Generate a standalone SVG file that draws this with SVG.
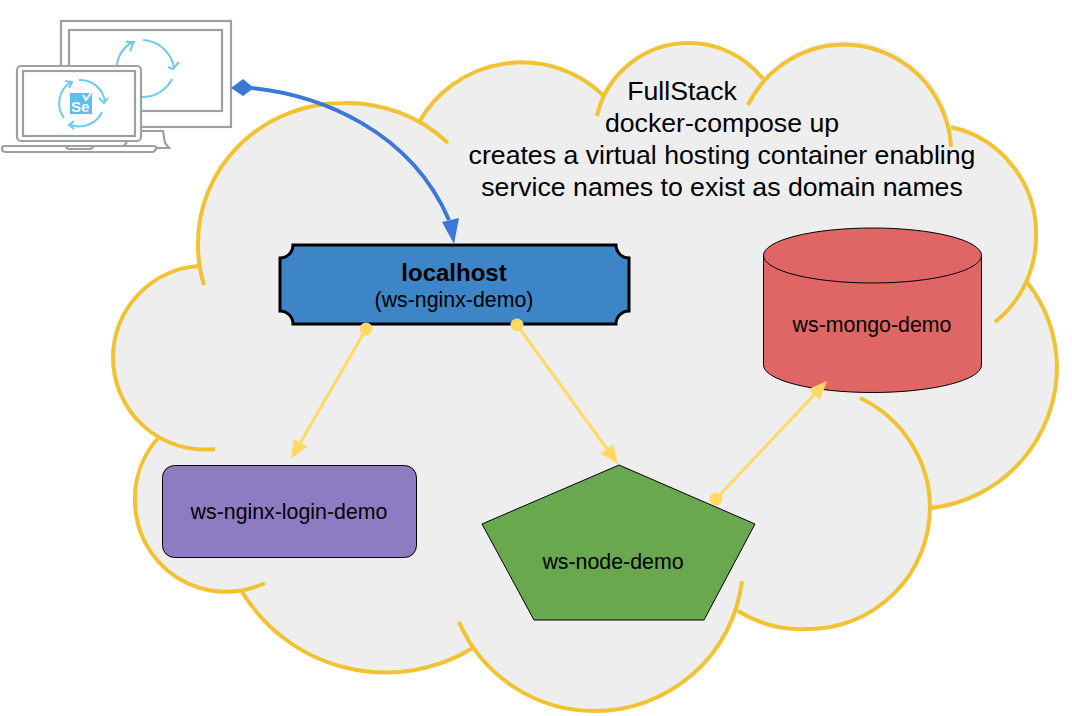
<svg xmlns="http://www.w3.org/2000/svg" width="1072" height="716" viewBox="0 0 1072 716">
<style>
text{font-family:"Liberation Sans",Arial,sans-serif;fill:#000;text-anchor:middle}
.arc{fill:none;stroke:#f1c232;stroke-width:4}
.ic{fill:none;stroke:#9c9fa3;stroke-width:2.200}
.cy{fill:none;stroke:#6fcaee;stroke-width:2}
.y{fill:none;stroke:#ffd966;stroke-width:3}
.n{stroke:#000;stroke-width:1}
.l{font-size:21.330px}
.t{font-size:26.670px}
</style>
<defs>
<marker id="ya" markerUnits="userSpaceOnUse" markerWidth="24" markerHeight="20" refX="14" refY="8" orient="auto"><path d="M0,0L19,8L0,16Z" fill="#ffd966"/></marker>
<filter id="soft" x="-5%" y="-5%" width="110%" height="110%"><feGaussianBlur stdDeviation="0.350"/></filter>
</defs>
<rect width="1072" height="716" fill="#fff"/>
<g id="cloud">
<path fill="#eee" d="M199,266A145,140 0 0 1 343,103A145,140 0 0 1 419,122A118,118 0 0 1 603,95A94,94 0 0 1 763,79A108,108 0 0 1 951,127A109,109 0 0 1 1027,282A142,142 0 0 1 931,508A122,122 0 0 1 808,629A122,122 0 0 1 738,611A148,148 0 0 1 595,711A148,148 0 0 1 473,648A168,168 0 0 1 241,590A91,91 0 0 1 135,500A91,91 0 0 1 159,437A92,92 0 0 1 113,357A92,92 0 0 1 199,266Z"/>
<path class="arc" d="M204,285A145,140 0 0 1 198,243A145,140 0 0 1 343,103A145,140 0 0 1 448,143"/>
<path class="arc" d="M419,122A118,118 0 0 1 603,95"/>
<path class="arc" d="M597,116A94,94 0 0 1 688,43A94,94 0 0 1 763,79"/>
<path class="arc" d="M748,105A108,108 0 0 1 843,44.500A108,108 0 0 1 951,147"/>
<path class="arc" d="M951,127A109,109 0 0 1 1036,235A109,109 0 0 1 995,322"/>
<path class="arc" d="M1027,282A142,142 0 0 1 1057,367A142,142 0 0 1 931,508"/>
<path class="arc" d="M860,398A122,122 0 0 1 930,508A122,122 0 0 1 808,629A122,122 0 0 1 738,611"/>
<path class="arc" d="M742,581A148,148 0 0 1 595,711A148,148 0 0 1 459,622"/>
<path class="arc" d="M473,648A168,168 0 0 1 241,590"/>
<path class="arc" d="M265,583A91,91 0 0 1 135,500A91,91 0 0 1 159,437"/>
<path class="arc" d="M215,449A92,92 0 0 1 113,357A92,92 0 0 1 199,266"/>
<text class="t" x="682" y="100">FullStack</text>
<text class="t" x="722" y="132">docker-compose up</text>
<text class="t" x="722" y="164">creates a virtual hosting container enabling</text>
<text class="t" x="722" y="196">service names to exist as domain names</text>
</g>
<g id="selenium-clients" filter="url(#soft)">
<rect x="61" y="21" width="170" height="106" fill="#fff" stroke="#9c9fa3" stroke-width="2.200"/>
<rect x="69" y="30" width="153" height="81" class="ic"/>
<path class="cy" d="M117,65A30,30 0 0 1 133,42M126,42L134,42L130,51M143,40A33,33 0 0 1 174,68M168,67L173,69L179,62M172,79A33,33 0 0 1 142,97"/>
<path class="ic" style="fill:#fff" d="M141,131H163L165,143L169,148H125"/>
<rect x="17" y="66" width="124" height="75" rx="4" fill="#fff" stroke="#9c9fa3" stroke-width="2.200"/>
<rect x="23" y="71" width="112" height="65" class="ic"/>
<path class="ic" d="M127,142L124,146"/>
<path class="ic" style="fill:#fff" d="M4,146H153Q157,146 156,149Q155,152 152,152H6Q2,152 2,149Q2,146 4,146ZM66,146Q66,149 70,149H89Q93,149 93,146"/>
<path class="cy" d="M64,118A25,25 0 0 1 71,82M65,81L72,82L69,88M79,80A25,25 0 0 1 105,102M99,98L104,103L108,98M102,112A25,25 0 0 1 71,125M74,121L69,125L74,129"/>
<rect x="70" y="93" width="22" height="21" fill="#5cc0e8"/>
<path d="M83,95L86,100L91,93" fill="none" stroke="#fff" stroke-width="2"/>
<text x="80.500" y="112" style="font-size:15px;font-weight:bold;fill:#fff">Se</text>
</g>
<g id="localhost">
<path d="M293,245H616A13,13 0 0 0 629,258V311A13,13 0 0 0 616,324H293A13,13 0 0 0 280,311V258A13,13 0 0 0 293,245Z" fill="#3d85c6" stroke="#000" stroke-width="3"/>
<text x="454" y="281" style="font-size:24px;font-weight:bold">localhost</text>
<text class="l" x="454" y="307">(ws-nginx-demo)</text>
</g>
<g id="ws-nginx-login-demo">
<rect class="n" x="162.500" y="465.500" width="254" height="92" rx="12" fill="#8e7cc3"/>
<text class="l" x="289" y="519">ws-nginx-login-demo</text>
</g>
<g id="ws-node-demo">
<path class="n" d="M619,465L755,524L704,620H534L482,524Z" fill="#6aa84f"/>
<text class="l" x="613" y="569">ws-node-demo</text>
</g>
<g id="ws-mongo-demo">
<path class="n" d="M763.500,255.500V365A109,27.500 0 0 0 981.500,365V255.500A109,27.500 0 0 0 763.500,255.500A109,27.500 0 0 0 981.500,255.500" fill="#e06666"/>
<text class="l" x="872" y="332">ws-mongo-demo</text>
</g>
<g id="connectors">
<path d="M252,88C320,95 410,130 449,220" fill="none" stroke="#3c78d8" stroke-width="4"/>
<path d="M231,88L243,79L254,88L243,96Z" fill="#3c78d8"/>
<path d="M454,244L442,222L459,218Z" fill="#3c78d8"/>
<path class="y" marker-end="url(#ya)" d="M366,329L293.500,454.700"/>
<circle cx="366" cy="329" r="6.500" fill="#ffd966"/>
<path class="y" marker-end="url(#ya)" d="M517,325L615,460"/>
<circle cx="517" cy="325" r="6.500" fill="#ffd966"/>
<path class="y" marker-end="url(#ya)" d="M716,499L823.600,384.600"/>
<circle cx="716" cy="499" r="6.500" fill="#ffd966"/>
</g>
</svg>
